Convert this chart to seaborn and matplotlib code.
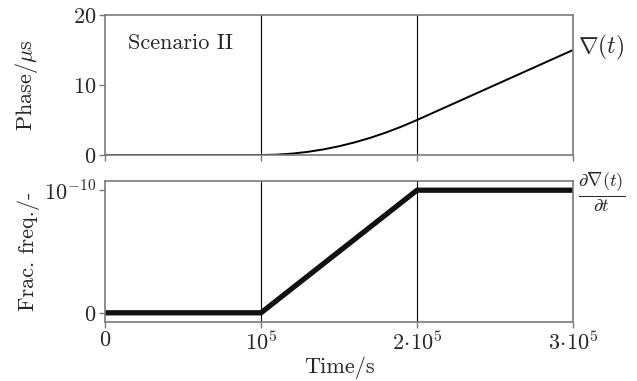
import matplotlib
matplotlib.use("Agg")
import matplotlib.pyplot as plt
import seaborn as sns
import pandas as pd

# ---- data ----
phase_time = [0, 0.5e5, 1.0e5, 1.1e5, 1.2e5, 1.3e5, 1.4e5, 1.5e5, 1.6e5, 1.7e5,
              1.8e5, 1.9e5, 2.0e5, 2.5e5, 3.0e5]
phase_us = [0, 0, 0, 0.05, 0.2, 0.45, 0.8, 1.25, 1.8, 2.45, 3.2, 4.05, 5.0, 10.0, 15.0]

freq_time = [0, 1.0e5, 2.0e5, 3.0e5]
frac_freq = [0, 0, 1e-10, 1e-10]

x_ticks = [0, 1e5, 2e5, 3e5]
x_ticklabels = [r"$0$", r"$10^5$", r"$2\!\cdot\!10^5$", r"$3\!\cdot\!10^5$"]
phase_ticks = [0, 10, 20]
freq_ticks = [0, 1e-10]
freq_ticklabels = [r"$0$", r"$10^{-10}$"]
event_times = [1e5, 2e5]

sns.set_theme(style="ticks")
plt.rcParams.update({
    "font.family": ["cmr10", "DejaVu Serif"],
    "mathtext.fontset": "cm",
    "axes.formatter.use_mathtext": True,
    "axes.unicode_minus": False,
})

fig = plt.figure(figsize=(6.37, 3.81), dpi=100)
W, H = 637, 381
def rect(l, t, r, b):
    return [l / W, 1 - b / H, (r - l) / W, (b - t) / H]

ax1 = fig.add_axes(rect(105, 15, 573, 155))
ax2 = fig.add_axes(rect(105, 181, 573, 322))

df1 = pd.DataFrame({"t": phase_time, "p": phase_us})
df2 = pd.DataFrame({"t": freq_time, "f": frac_freq})

sns.lineplot(data=df1, x="t", y="p", ax=ax1, color="black", lw=1.4)
sns.lineplot(data=df2, x="t", y="f", ax=ax2, color="#111111", lw=3.8,
             solid_capstyle="butt")

fs = 16
frame_col = "#7a7a7a"
for ax in (ax1, ax2):
    ax.set_xlim(0, 3e5)
    for tx in event_times:
        ax.axvline(tx, color="black", lw=0.8, zorder=0.5)
    for s in ax.spines.values():
        s.set_color(frame_col)
        s.set_linewidth(1.2)
    ax.tick_params(axis="both", direction="out", length=4, width=1,
                   color=frame_col, labelsize=fs, pad=2)
    ax.set_xticks(x_ticks)

ax1.set_ylim(0, 20)
ax1.set_yticks(phase_ticks)
ax1.set_yticklabels([rf"${v}$" for v in phase_ticks])
ax1.tick_params(axis="x", labelbottom=False)
ax1.set_xlabel("")
ax1.set_ylabel(r"Phase/$\mu$s", fontsize=fs)
ax1.yaxis.set_label_coords(-0.138, 0.5)
ax1.text(0.05, 0.8, "Scenario II", transform=ax1.transAxes, fontsize=fs,
         va="center", ha="left")
ax1.text(1.01, 0.77, r"$\nabla(t)$", transform=ax1.transAxes, fontsize=fs + 1,
         va="center", ha="left")

ax2.set_ylim(-0.075e-10, 1.075e-10)
ax2.set_yticks(freq_ticks)
ax2.set_yticklabels(freq_ticklabels)
ax2.set_xticklabels(x_ticklabels)
ax2.set_xlabel("Time/s", fontsize=fs, labelpad=2)
ax2.set_ylabel("Frac. freq./-", fontsize=fs)
ax2.yaxis.set_label_coords(-0.138, 0.5)
ax2.text(1.01, 0.92, r"$\frac{\partial\nabla(t)}{\partial t}$",
         transform=ax2.transAxes, fontsize=fs + 3, va="center", ha="left")

fig.savefig("out.png", dpi=100)
